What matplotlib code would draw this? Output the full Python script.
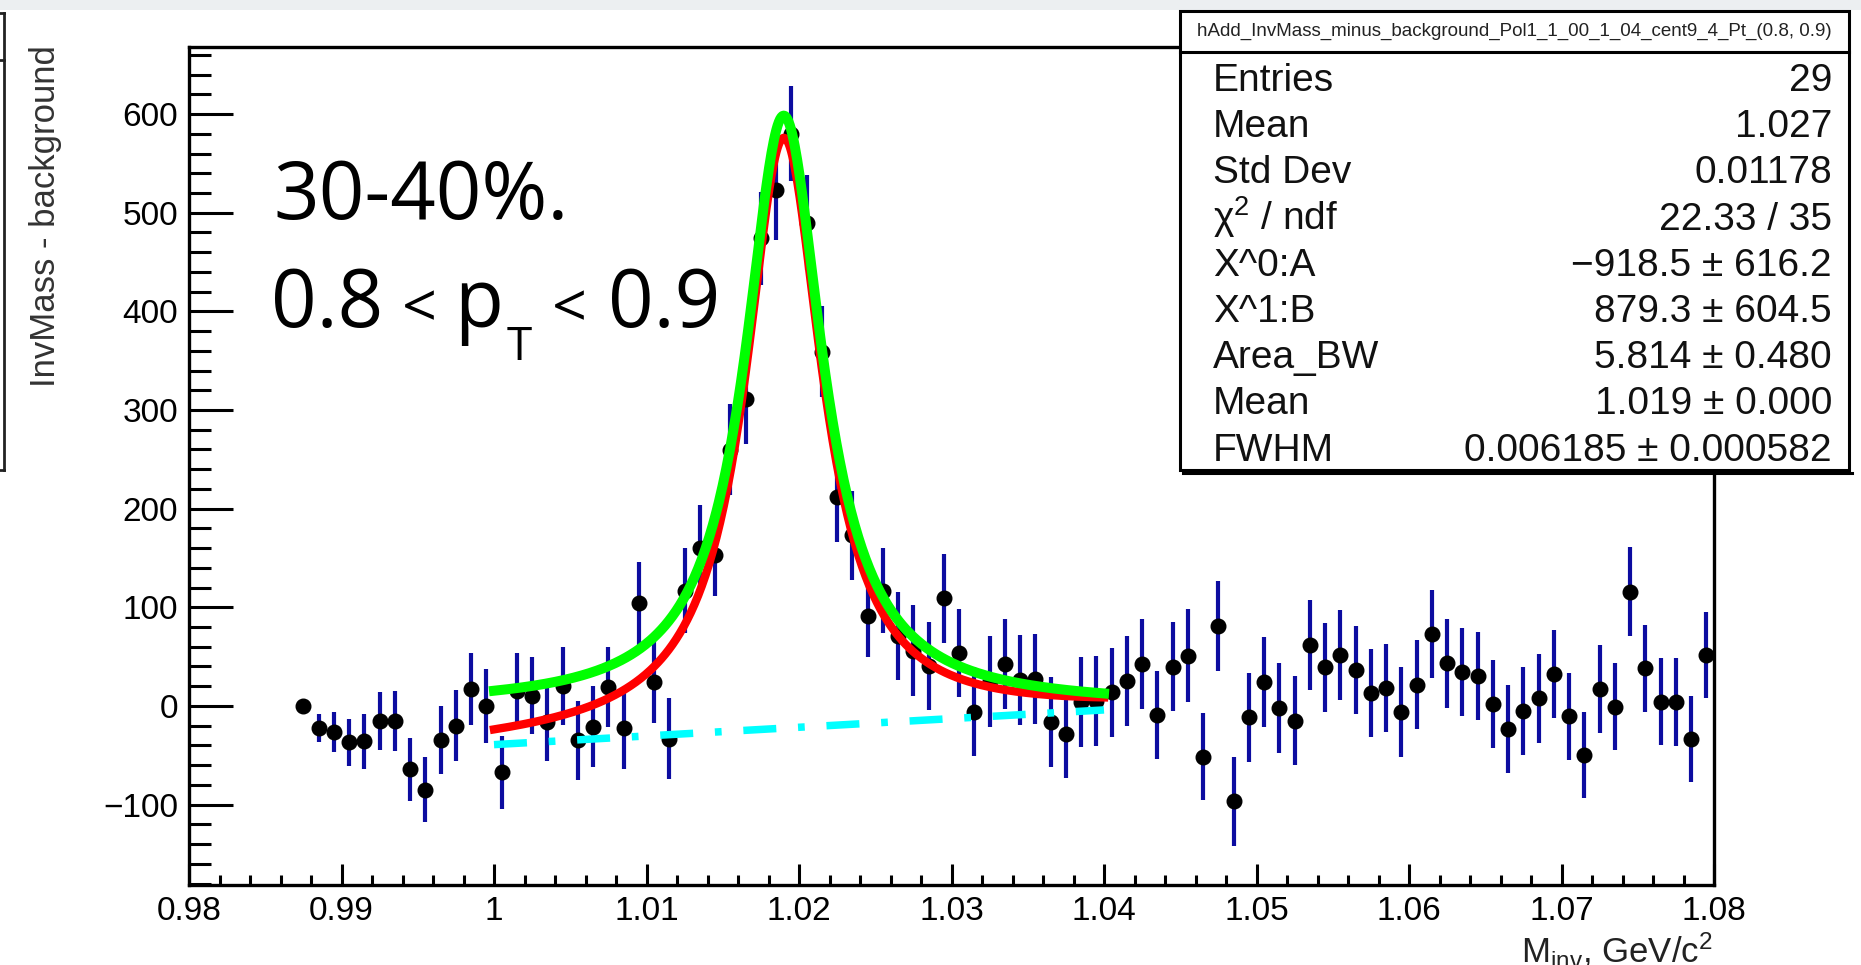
import numpy as np
import matplotlib
matplotlib.use("Agg")
import matplotlib.pyplot as plt
from matplotlib.patches import Rectangle
from matplotlib.ticker import MultipleLocator, FixedLocator

# ---------------- data ----------------
bin_low = 0.980
bin_width = 0.001
first_bin = 7

values = [0, -22.6, -26, -36.8, -36, -15.5, -15.5, -64.4, -84.7, -34.4,
          -19.9, 17.2, 0.3, -67, 15.5, 10.4, -16.5, 20.6, -35, -20.9,
          18.9, -22.6, 104, 24.6, -33.4, 117, 160.4, 152.8, 259.8, 310.7,
          474, 523.5, 580, 490, 359, 211.5, 173, 91.6, 117, 71,
          56, 40.5, 109, 53.6, -5.7, 25, 42.5, 26, 27, -16.5,
          -28.3, 3.7, 5.4, 13.8, 25.6, 42.5, -9.1, 39.8, 51, -51.3,
          81.3, -96.8, -11.5, 24.6, -2.4, -14.8, 61.7, 39, 51.6, 36.8,
          13.2, 17.9, -6.4, 21.6, 72.9, 43.2, 34.7, 30.7, 2, -23.3,
          -5.4, 7.8, 32.4, -10.5, -49.6, 17.2, -0.7, 116, 38.1, 4.4,
          3.7, -33.4, 51.6]

errors = [0, 14.3, 20.2, 23.6, 27.5, 29.3, 30.5, 31.7, 32.5, 34.6,
          35.6, 36.6, 37.6, 37.0, 38.0, 39.0, 39.0, 39.5, 40.0, 41.0,
          40.5, 41.0, 42.0, 42.0, 41.0, 43.0, 43.0, 41.0, 46.0, 45.0,
          47.0, 51.0, 48.0, 48.0, 46.0, 45.0, 45.0, 42.0, 43.0, 44.6,
          46.0, 44.6, 45.0, 44.7, 45.0, 46.0, 45.5, 45.5, 45.5, 45.5,
          44.7, 45.5, 45.5, 45.0, 45.5, 46.0, 44.7, 45.0, 46.9, 44.5,
          45.5, 45.0, 45.0, 45.5, 45.5, 45.5, 45.9, 45.0, 45.5, 44.7,
          45.0, 44.7, 45.5, 45.0, 44.9, 45.2, 44.7, 44.7, 44.4, 44.2,
          44.7, 45.0, 44.4, 44.4, 43.8, 44.4, 43.8, 45.0, 43.8, 44.2,
          44.7, 43.5, 43.8]

# fit parameters (from the stats box)
pol_A = -918.5
pol_B = 879.3
area_bw = 5.814
mean_bw = 1.019
fwhm_bw = 0.006185
fit_range = (1.0, 1.04)

stat_title = "hAdd_InvMass_minus_background_Pol1_1_00_1_04_cent9_4_Pt_(0.8, 0.9)"
stat_labels = ["Entries", "Mean", "Std Dev", "χ$^{2}$ / ndf", "X^0:A", "X^1:B",
               "Area_BW", "Mean", "FWHM"]
stat_values = ["29", "1.027", "0.01178", "22.33 / 35", "−918.5 ± 616.2",
               "879.3 ± 604.5", "5.814 ± 0.480", "1.019 ± 0.000",
               "0.006185 ± 0.000582"]

x_ticks = [0.98, 0.99, 1.00, 1.01, 1.02, 1.03, 1.04, 1.05, 1.06, 1.07, 1.08]
x_ticklabels = ["0.98", "0.99", "1", "1.01", "1.02", "1.03", "1.04", "1.05",
                "1.06", "1.07", "1.08"]
y_ticks = [-100, 0, 100, 200, 300, 400, 500, 600]

# ---------------- style ----------------
plt.rcParams["font.family"] = ["Liberation Sans", "DejaVu Sans"]
plt.rcParams["mathtext.fontset"] = "custom"
plt.rcParams["mathtext.rm"] = "Liberation Sans"
plt.rcParams["mathtext.it"] = "Liberation Sans:italic"
plt.rcParams["mathtext.bf"] = "Liberation Sans:bold"
plt.rcParams["mathtext.sf"] = "Liberation Sans"
plt.rcParams["axes.unicode_minus"] = True

W, H = 1861, 965
fig = plt.figure(figsize=(W / 100, H / 100), dpi=100)
fig.patch.set_facecolor("white")

L, R, T, B = 189, 1714, 47, 885
ax = fig.add_axes([L / W, 1 - B / H, (R - L) / W, (B - T) / H])

x = bin_low + bin_width * (np.arange(len(values)) + first_bin + 0.5)
ax.errorbar(x, values, yerr=errors, fmt="o", color="black", ms=10.5,
            ecolor="#0c0ca0", elinewidth=3.0, capsize=0, zorder=3)

xf = np.linspace(fit_range[0], fit_range[1], 500)
bw = area_bw * (fwhm_bw / (2 * np.pi)) / ((xf - mean_bw) ** 2 + fwhm_bw ** 2 / 4)
bkg = pol_A + pol_B * xf
ax.plot(xf, bkg, color="#00ffff", lw=5.4, dashes=(4.4, 2.9, 0.9, 2.9),
        solid_capstyle="butt", zorder=4)
ax.plot(xf, bw + bkg, color="#ff0000", lw=6.0, zorder=5)
ax.plot(xf, bw, color="#00ff00", lw=7.2, zorder=6)

ax.set_xlim(0.98, 1.08)
ax.set_ylim(-181.5, 668)
ax.xaxis.set_major_locator(FixedLocator(x_ticks))
ax.set_xticklabels(x_ticklabels)
ax.xaxis.set_minor_locator(MultipleLocator(0.002))
ax.yaxis.set_major_locator(FixedLocator(y_ticks))
ax.yaxis.set_minor_locator(MultipleLocator(20))

for sp in ax.spines.values():
    sp.set_linewidth(2.4)
ax.tick_params(axis="y", which="major", direction="in", length=32, width=2.2,
               labelsize=24, pad=8, right=False)
ax.tick_params(axis="y", which="minor", direction="in", length=16, width=2.2,
               right=False)
ax.tick_params(axis="x", which="major", direction="in", length=15, width=2.2,
               labelsize=24, pad=8, top=False)
ax.tick_params(axis="x", which="minor", direction="in", length=7.5, width=2.2,
               top=False)

# axis titles
fig.text(46 / W, 1 - 45 / H, "InvMass - background", rotation=90, ha="center",
         va="top", fontsize=25, color="#333333")
fig.text(1713 / W, 1 - 963 / H, r"M$_{\rm inv}$, GeV/c$^{2}$", ha="right",
         va="baseline", fontsize=25, color="#222222")

# ---------------- overlay (pixel coordinates) ----------------
ov = fig.add_axes([0, 0, 1, 1], zorder=10)
ov.set_xlim(0, W)
ov.set_ylim(H, 0)
ov.axis("off")

ov.add_patch(Rectangle((0, 0), W, 10, facecolor="#eceff1", edgecolor="none"))
# edge of neighbouring panel
ov.plot([4, 4], [13, 470], color="#222222", lw=2.0)
for yy in (13, 60, 470):
    ov.plot([0, 4], [yy, yy], color="#222222", lw=2.0)

# stats box
bx0, bx1, by0, by1 = 1180, 1849, 11, 470
ov.add_patch(Rectangle((bx0, by0), bx1 - bx0, by1 - by0, facecolor="white",
                       edgecolor="black", lw=2.2))
ov.plot([bx0 + 3, bx1 + 3], [by1 + 2.5, by1 + 2.5], color="black", lw=2.2)
ov.plot([bx0, bx1], [52, 52], color="black", lw=2.2)
ov.text((bx0 + bx1) / 2, 31, stat_title, ha="center", va="center",
        fontsize=13.5, color="#222222")
for k, (lab, val) in enumerate(zip(stat_labels, stat_values)):
    yb = 91 + 46.2 * k
    ov.text(1213, yb, lab, ha="left", va="baseline", fontsize=28, color="#111111")
    ov.text(1832, yb, val, ha="right", va="baseline", fontsize=28, color="#111111")

# annotations
ann_font = dict(family=["Open Sans", "DejaVu Sans"], color="black")
ov.text(273, 219, "30-40%.", ha="left", va="baseline", fontsize=57.5, **ann_font)
pt_pieces = [("0.8", 327, 327, 57.5), ("<", 419, 327, 44), ("p", 479, 327, 57.5),
             ("T", 519, 360, 33), ("<", 569, 327, 44), ("0.9", 664, 327, 57.5)]
for txt, cx, yb, fs in pt_pieces:
    ov.text(cx, yb, txt, ha="center", va="baseline", fontsize=fs, **ann_font)

fig.savefig("out.png", dpi=100, facecolor="white")
